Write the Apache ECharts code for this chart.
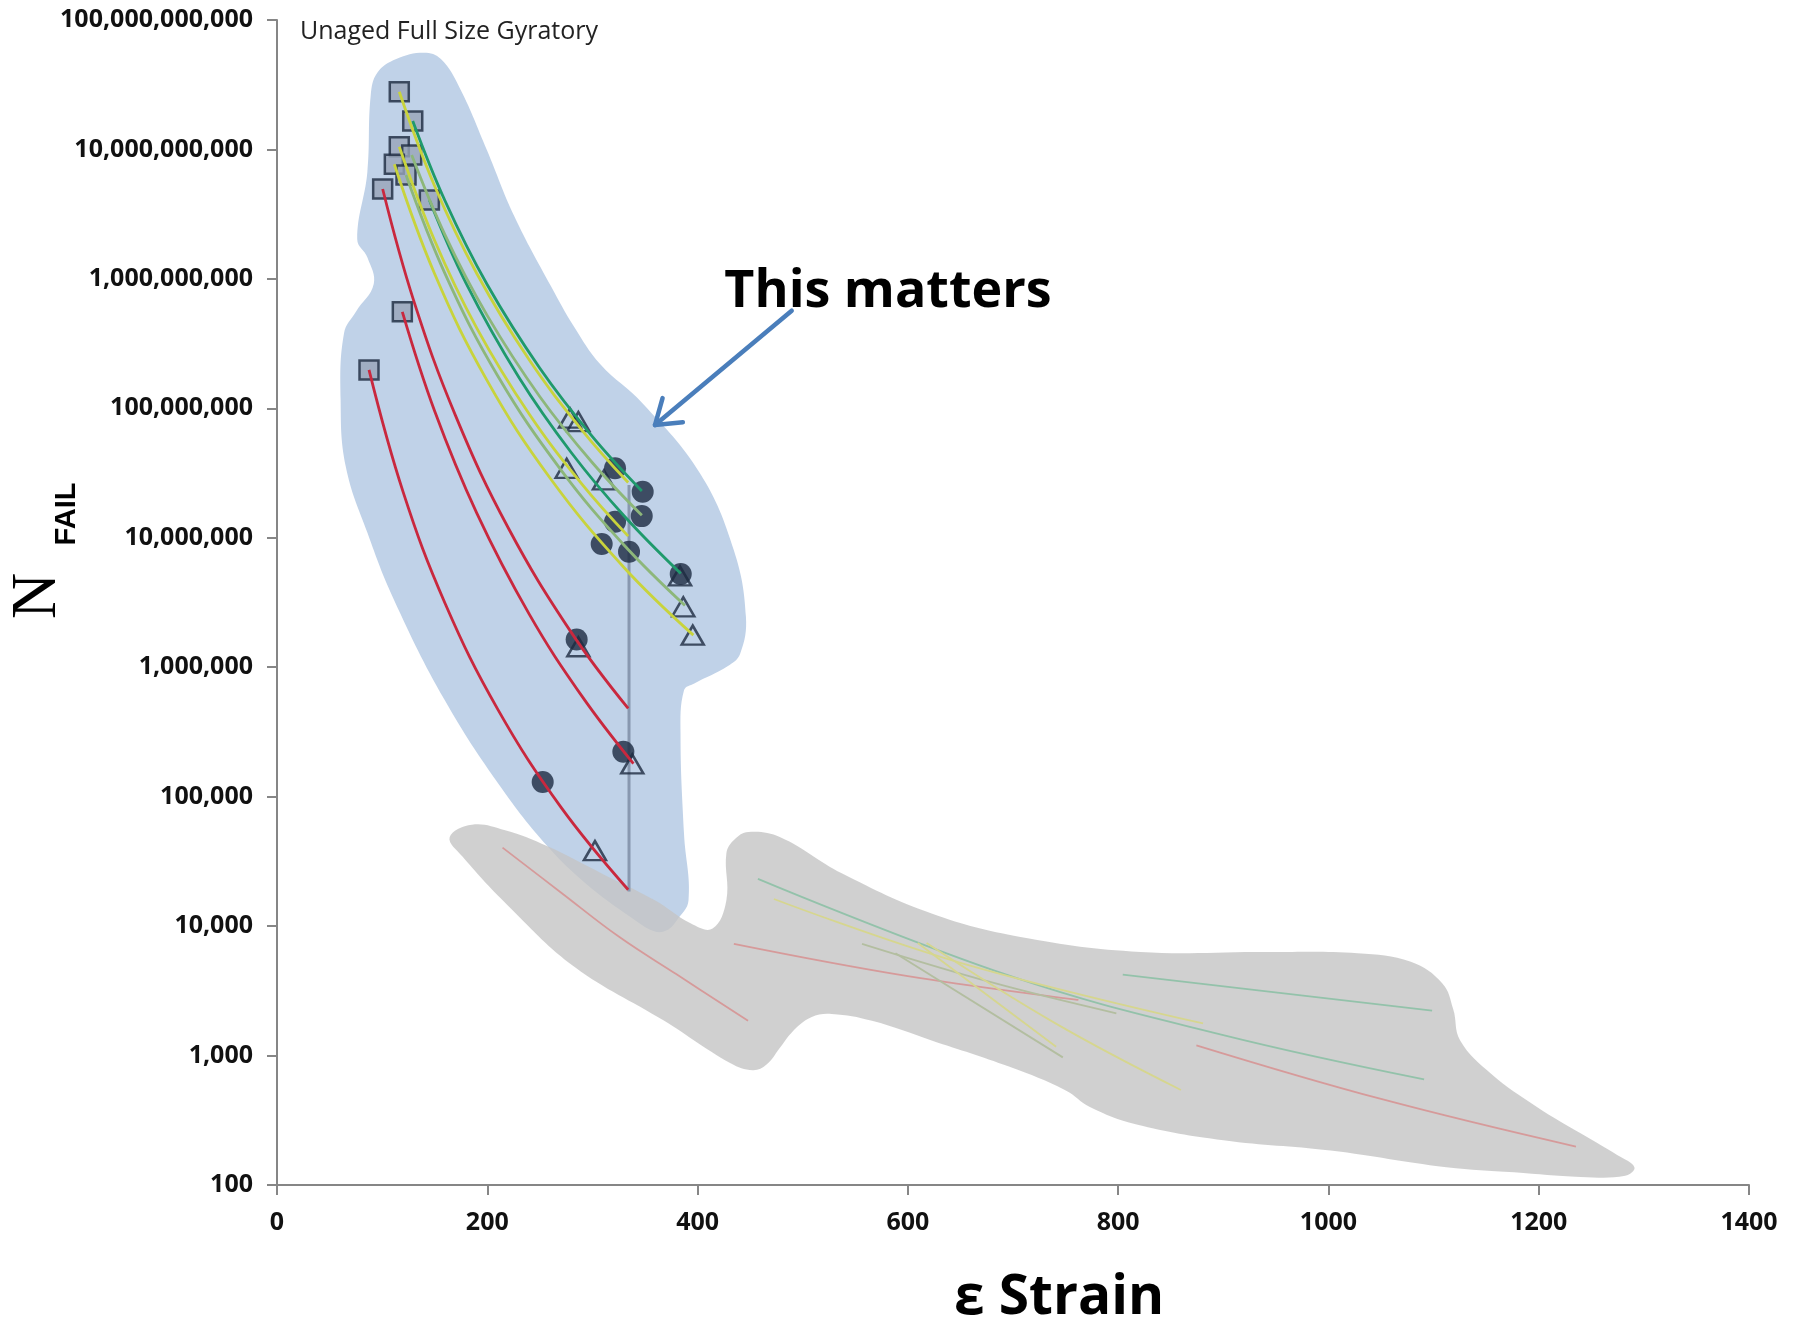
<!DOCTYPE html>
<html>
<head>
<meta charset="utf-8">
<title>Unaged Full Size Gyratory</title>
<script src="https://cdn.jsdelivr.net/npm/echarts@6/dist/echarts.min.js"></script>
<style>
html, body { margin: 0; padding: 0; background: #fff; }
#chart { width: 1798px; height: 1323px; }
</style>
</head>
<body>
<div id="chart"></div>
<script>
// strain (x) vs cycles to failure N (y, log)
const squares = [[116.3, 2.79e10], [129.1, 1.66e10], [116.3, 1.05e10], [128.1, 9.06e9], [111.6, 7.68e9],
  [122.7, 6.35e9], [100.5, 4.95e9], [144.9, 4.07e9], [119.2, 5.57e8], [87.5, 1.98e8]];
const circles = [[321.5, 3.44e7], [347.8, 2.27e7], [346.9, 1.47e7], [321.5, 1.33e7], [308.8, 8.95e6],
  [334.8, 7.8e6], [384, 5.25e6], [285, 1.64e6], [329.4, 2.22e5], [252.7, 1.3e5]];
const triangles = [[278.7, 8.4e7], [286.6, 7.9e7], [275.5, 3.44e7], [311, 2.8e7], [383.3, 5.07e6],
  [386.4, 2.93e6], [395.4, 1.77e6], [286.6, 1.44e6], [337.9, 1.79e5], [302.4, 3.83e4]];

// fitted curves
const fitYellow1 = [[116.3, 2.79e10], [150, 5.2e9], [190, 1.1e9], [240, 2.36e8], [290, 6.8e7], [334, 2.67e7]];
const fitTeal1 = [[129.1, 1.66e10], [160, 3.98e9], [200, 9.0e8], [250, 2.04e8], [300, 6.05e7], [347, 2.3e7]];
const fitYellow2 = [[116.3, 1.05e10], [150, 1.97e9], [190, 4.17e8], [240, 9.0e7], [290, 2.6e7], [334, 1.03e7]];
const fitSage1 = [[128.1, 9.06e9], [160, 2.17e9], [200, 5.2e8], [250, 1.23e8], [300, 3.8e7], [347, 1.49e7]];
const fitYellow3 = [[111.6, 7.68e9], [150, 1.09e9], [200, 1.63e8], [260, 2.87e7], [330, 5.9e6], [396, 1.77e6]];
const fitSage2 = [[122.7, 6.35e9], [160, 1.09e9], [210, 1.78e8], [270, 3.35e7], [330, 8.8e6], [388, 3.0e6]];
const fitTeal2 = [[144.9, 4.07e9], [180, 9.2e8], [230, 1.74e8], [280, 4.54e7], [330, 1.48e7], [384, 5.3e6]];
const fitRed1 = [[87.5, 1.98e8], [120, 2.25e7], [160, 3.09e6], [210, 4.72e5], [270, 8.3e4], [334, 1.91e4]];
const fitRed2 = [[119.2, 5.57e8], [150, 9.5e7], [190, 1.55e7], [240, 2.56e6], [290, 5.98e5], [339, 1.8e5]];
const fitRed3 = [[100.5, 4.95e9], [130, 6.8e8], [170, 8.7e7], [220, 1.19e7], [280, 1.85e6], [334, 4.8e5]];

// faint curves inside the grey zone
const faintRed1 = [[214.5, 4.04e4], [270, 1.82e4], [325, 8.3e3], [380, 4.24e3], [448, 1.86e3]];
const faintTeal1 = [[457.4, 2.32e4], [700, 4.05e3], [900, 1.44e3], [1091, 655]];
const faintYellow1 = [[472.6, 1.62e4], [650, 5.2e3], [880.8, 1.77e3]];
const faintRed2 = [[434.5, 7.28e3], [600, 4.1e3], [762.2, 2.69e3]];
const faintSage1 = [[556.4, 7.3e3], [680, 3.67e3], [798.3, 2.12e3]];
const faintSage2 = [[588.2, 6.17e3], [747.4, 968]];
const faintYellow2 = [[609.4, 7.4e3], [741, 1.17e3]];
const faintYellow3 = [[617.8, 7.4e3], [740, 1.78e3], [859.7, 542]];
const faintTeal2 = [[804.4, 4.22e3], [1098.6, 2.22e3]];
const faintRed3 = [[874.4, 1.2e3], [1050, 462], [1235.4, 198]];

// shaded zones: [strain, log10(N)]
const blueZone = [[139.6, 10.747], [155.9, 10.698], [174.5, 10.463], [199.5, 9.998], [225.7, 9.484],
  [260.6, 8.943], [282.4, 8.632], [307.5, 8.34], [347.8, 8.038], [402.4, 7.497],
  [434.5, 6.903], [446.0, 6.389], [440.5, 6.105], [428.5, 6.008], [396.9, 5.875], [387.1, 5.822],
  [383.8, 5.485], [387.1, 4.713], [391.4, 4.199], [380.5, 4.048], [370.7, 3.968], [358.7, 3.96],
  [336.9, 4.066], [293.3, 4.332], [257.3, 4.616], [212.6, 5.077], [159.2, 5.751], [111.2, 6.522],
  [86.1, 7.036], [65.4, 7.551], [60.5, 8.065], [63.7, 8.579], [75.2, 8.748], [92.0, 8.96],
  [86.1, 9.164], [76.3, 9.306], [85.9, 9.821], [89.1, 10.415], [95.4, 10.592], [113.4, 10.698]];
const greyZone = [[164.2, 4.687], [185.4, 4.784], [217.0, 4.74], [257.3, 4.616], [309.7, 4.403],
  [359.4, 4.199], [393.3, 4.022], [414.3, 3.981], [427.4, 4.199], [427.4, 4.562], [435.1, 4.669],
  [448.2, 4.728], [478.7, 4.687], [537.6, 4.406], [622.6, 4.097], [707.1, 3.916], [821.1, 3.8],
  [936.6, 3.8], [1027.7, 3.791], [1078.4, 3.724], [1108.4, 3.556], [1118.7, 3.357], [1125.3, 3.117],
  [1154.7, 2.86], [1198.3, 2.603], [1239.8, 2.399], [1274.6, 2.231], [1291.0, 2.137], [1282.3, 2.071],
  [1239.8, 2.062], [1176.5, 2.098], [1112.2, 2.137], [1002.1, 2.266], [900.2, 2.346], [816.7, 2.47],
  [773.1, 2.603], [750.2, 2.731], [696.8, 2.913], [622.6, 3.117], [565.9, 3.268], [527.7, 3.321],
  [508.1, 3.295], [489.6, 3.179], [478.7, 3.064], [465.6, 2.931], [452.5, 2.887], [431.4, 2.94],
  [367.5, 3.272], [283.1, 3.685], [222.4, 4.137], [176.6, 4.536]];

const dropLine = [[334.8, 2.56e7], [334.8, 1.85e4]];
const arrowFrom = [489.5, 5.68e8];
const arrowTo = [359.5, 7.43e7];

const solid = { red: '#c9283e', yellow: '#c8d33c', sage: '#8db77a', teal: '#1f9a6c' };
const faint = { red: '#d69a9a', yellow: '#d6d68e', sage: '#b3bea0', teal: '#93c2aa' };

const fits = [
  [fitRed1, 'red'], [fitRed2, 'red'], [fitRed3, 'red'],
  [fitSage2, 'sage'], [fitYellow3, 'yellow'], [fitTeal2, 'teal'], [fitSage1, 'sage'],
  [fitYellow2, 'yellow'], [fitTeal1, 'teal'], [fitYellow1, 'yellow']
];
const faints = [
  [faintRed1, 'red'], [faintTeal1, 'teal'], [faintYellow1, 'yellow'], [faintRed2, 'red'],
  [faintSage1, 'sage'], [faintSage2, 'sage'], [faintYellow2, 'yellow'], [faintYellow3, 'yellow'],
  [faintTeal2, 'teal'], [faintRed3, 'red']
];

function zoneSeries(outline, fill, z) {
  return {
    type: 'custom',
    z: z,
    silent: true,
    data: [[outline[0][0], Math.pow(10, outline[0][1])]],
    renderItem: function (params, api) {
      const pts = outline.map(function (p) { return api.coord([p[0], Math.pow(10, p[1])]); });
      return { type: 'polygon', shape: { points: pts, smooth: 0.4 }, style: { fill: fill } };
    }
  };
}

const series = [
  zoneSeries(blueZone, '#c0d2e8', 1),
  zoneSeries(greyZone, 'rgba(196,196,196,0.8)', 2)
];

faints.forEach(function (f) {
  series.push({
    type: 'line', z: 3, data: f[0], smooth: 0.4, showSymbol: false, silent: true,
    lineStyle: { color: faint[f[1]], width: 1.8 }
  });
});

series.push({
  type: 'line', z: 3, data: dropLine, showSymbol: false, silent: true,
  lineStyle: { color: '#8898b0', width: 3 }
});

series.push({
  type: 'scatter', z: 4, data: squares, symbol: 'rect', symbolSize: 19,
  itemStyle: { color: '#97a4b8', borderColor: '#1d2b40', borderWidth: 2.5 }
});
series.push({
  type: 'scatter', z: 4, data: circles, symbol: 'circle', symbolSize: 22,
  itemStyle: { color: '#1b2a41' }
});
series.push({
  type: 'scatter', z: 4, data: triangles, symbol: 'triangle', symbolSize: [22, 19],
  itemStyle: { color: 'rgba(0,0,0,0)', borderColor: '#1d2b40', borderWidth: 2.5 }
});

fits.forEach(function (f) {
  series.push({
    type: 'line', z: 5, data: f[0], smooth: 0.4, showSymbol: false, silent: true,
    lineStyle: { color: solid[f[1]], width: 2.8 }
  });
});

// annotation arrow
series.push({
  type: 'custom', z: 6, silent: true,
  data: [arrowTo],
  renderItem: function (params, api) {
    const a = api.coord(arrowFrom);
    const b = api.coord(arrowTo);
    const dx = a[0] - b[0], dy = a[1] - b[1];
    const len = Math.sqrt(dx * dx + dy * dy);
    const ux = dx / len, uy = dy / len;
    const head = 28, ang = 0.6;
    const c = Math.cos(ang), s = Math.sin(ang);
    const p1 = [b[0] + head * (ux * c - uy * s), b[1] + head * (ux * s + uy * c)];
    const p2 = [b[0] + head * (ux * c + uy * s), b[1] + head * (-ux * s + uy * c)];
    const st = { stroke: '#4a7ebb', lineWidth: 4.5, fill: null, lineCap: 'round', lineJoin: 'round' };
    return {
      type: 'group',
      children: [
        { type: 'line', shape: { x1: a[0], y1: a[1], x2: b[0], y2: b[1] }, style: st },
        { type: 'polyline', shape: { points: [p1, b, p2] }, style: st }
      ]
    };
  }
});

const chart = echarts.init(document.getElementById('chart'));
chart.setOption({
  animation: false,
  backgroundColor: '#fff',
  grid: { left: 277, right: 49, top: 20, bottom: 138 },
  xAxis: {
    type: 'value', min: 0, max: 1400, interval: 200,
    axisLine: { show: true, onZero: false, lineStyle: { color: '#868686', width: 2 } },
    axisTick: { show: true, length: 10, lineStyle: { color: '#868686', width: 2 } },
    splitLine: { show: false },
    axisLabel: {
      fontFamily: 'Open Sans', fontWeight: 'bold', fontSize: 25, color: '#111', margin: 25,
      formatter: function (v) { return String(v); }
    }
  },
  yAxis: {
    type: 'log', logBase: 10, min: 100, max: 1e11, splitNumber: 10,
    axisLine: { show: true, onZero: false, lineStyle: { color: '#868686', width: 2 } },
    axisTick: { show: true, length: 10, lineStyle: { color: '#868686', width: 2 } },
    splitLine: { show: false },
    axisLabel: {
      fontFamily: 'Open Sans', fontWeight: 'bold', fontSize: 25, color: '#111', margin: 24,
      formatter: function (v) { return Math.round(v).toLocaleString('en-US'); }
    }
  },
  graphic: [
    { type: 'text', x: 300, y: 32, style: { text: 'Unaged Full Size Gyratory', fontFamily: 'Open Sans', fontSize: 25, fill: '#222', align: 'left', verticalAlign: 'middle' } },
    { type: 'text', x: 888, y: 292, style: { text: 'This matters', fontFamily: 'Open Sans', fontWeight: 'bold', fontSize: 52, fill: '#000', align: 'center', verticalAlign: 'middle' } },
    { type: 'text', x: 1059, y: 1298, style: { text: 'ε Strain', fontFamily: 'Open Sans', fontWeight: 'bold', fontSize: 55, fill: '#000', align: 'center', verticalAlign: 'middle' } },
    { type: 'text', x: 38, y: 596, rotation: Math.PI / 2, style: { text: 'N', fontFamily: 'Liberation Serif', fontSize: 64, fill: '#000', align: 'center', verticalAlign: 'middle' } },
    { type: 'text', x: 67, y: 514, rotation: Math.PI / 2, style: { text: 'FAIL', fontFamily: 'Liberation Sans', fontWeight: 'bold', fontSize: 29, fill: '#000', align: 'center', verticalAlign: 'middle' } }
  ],
  series: series
});
</script>
</body>
</html>
